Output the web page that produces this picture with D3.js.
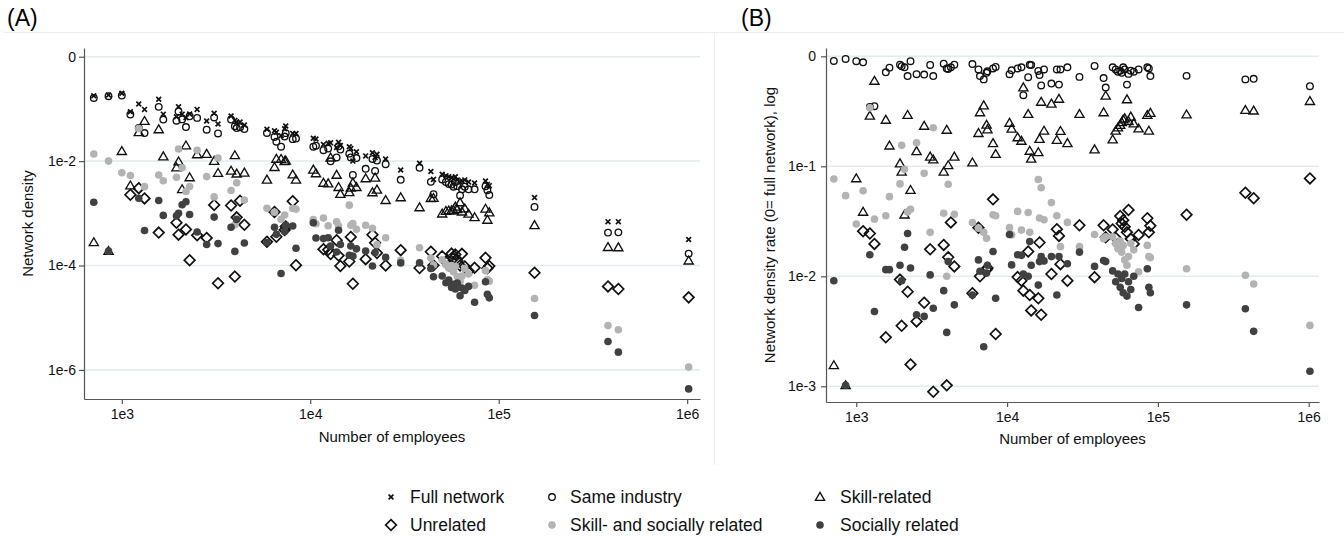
<!DOCTYPE html>
<html>
<head>
<meta charset="utf-8">
<script src="https://cdn.jsdelivr.net/npm/d3@7"></script>
<style>
  body { margin: 0; background: #fff; }
  svg { display: block; font-family: "Liberation Sans", Arial, sans-serif; }
</style>
</head>
<body>
<svg id="chart" width="1344" height="537"></svg>
<script>
// Firms: number of employees and the density of the full co-worker network
const employees = [710, 850, 1000, 1110, 1230, 1320, 1570, 1660, 1950, 2000,
  2090, 2190, 2290, 2510, 2820, 3090, 3240, 3800, 3980, 4070,
  4240, 4470, 5890, 6460, 6610, 7000, 7310, 7410, 8070, 8400,
  10380, 10720, 11750, 12450, 12820, 13800, 14130, 14450, 16110, 16410,
  16830, 17580, 19680, 21380, 22080, 22590, 25120, 30200, 38020, 43650,
  45080, 50120, 52480, 54330, 56230, 57540, 58880, 60260, 62370, 63830,
  66070, 69180, 74470, 85110, 87100, 89130, 154900, 380200, 431500, 1018600];

const fullNetwork = [0.179, 0.185, 0.200, 0.0883, 0.124, 0.098, 0.153, 0.0794, 0.0708, 0.110,
  0.0794, 0.068, 0.080, 0.098, 0.0586, 0.0822, 0.0513, 0.0731, 0.0603, 0.0562,
  0.0562, 0.049, 0.0407, 0.0383, 0.0356, 0.0306, 0.0417, 0.047, 0.034, 0.0339,
  0.0275, 0.0265, 0.0209, 0.0219, 0.0224, 0.0182, 0.0229, 0.020, 0.0189, 0.0174,
  0.010, 0.0151, 0.0126, 0.0145, 0.0117, 0.0135, 0.011, 0.00676, 0.00912, 0.00631,
  0.00447, 0.00562, 0.00525, 0.00501, 0.00479, 0.00457, 0.00501, 0.00437, 0.00398, 0.00417,
  0.00437, 0.00398, 0.0038, 0.00417, 0.00355, 0.00339, 0.002, 0.000692, 0.000692, 0.000316];

// Sub-network density as a share of the full network density (null = no ties)
const rateSameIndustry = [0.908, 0.946, 0.902, 0.883, 0.347, 0.352, 0.716, 0.789, 0.839, 0.813,
  0.794, 0.661, 0.902, 0.687, 0.682, 0.834, 0.661, 0.857, 0.776, 0.767,
  0.794, 0.839, 0.851, 0.759, 0.661, 0.617, 0.708, 0.731, 0.776, 0.80,
  0.687, 0.746, 0.776, 0.794, 0.443, 0.646, 0.838, 0.832, 0.736, 0.676,
  0.543, 0.759, 0.565, 0.759, 0.553, 0.759, 0.794, 0.65, 0.817, 0.635,
  0.52, 0.794, 0.759, 0.724, 0.741, 0.708, 0.794, 0.759, 0.553, 0.692,
  0.741, 0.724, 0.759, 0.794, 0.776, 0.661, 0.664, 0.617, 0.624, 0.535];

const rateSkillRelated = [0.00155, 0.00102, 0.0776, 0.0385, 0.288, 0.597, 0.264, 0.154, 0.106, 0.0891,
  0.0363, 0.292, 0.0608, 0.137, 0.233, 0.122, 0.115, 0.0891, 0.214, 0.102,
  null, 0.122, 0.108, 0.20, 0.309, 0.357, 0.238, 0.216, 0.162, 0.129,
  0.248, 0.219, 0.183, 0.17, 0.52, 0.298, 0.138, 0.117, 0.134, 0.177,
  0.385, 0.21, 0.37, 0.173, 0.41, 0.209, 0.162, 0.298, 0.142, 0.309,
  0.437, 0.175, 0.21, 0.225, 0.237, 0.251, 0.266, 0.272, 0.405, 0.257,
  0.282, 0.245, 0.22, 0.292, 0.21, 0.305, 0.295, 0.324, 0.32, 0.391];

const rateUnrelated = [null, null, null, 0.0257, 0.0245, 0.0197, 0.00279, null, 0.00933, 0.00355,
  null, 0.00724, 0.00158, 0.00389, 0.00575, 0.0176, 0.000891, 0.0193, 0.00102, 0.0149,
  0.0309, 0.0123, 0.00703, 0.0277, 0.01, null, 0.0115, 0.0119, 0.0501, 0.00299,
  null, null, 0.00984, 0.00912, 0.00741, 0.0168, 0.00676, 0.0049, 0.00631, 0.0203,
  0.00447, null, 0.0105, 0.0268, 0.0233, 0.0129, 0.00912, 0.0291, 0.00982, 0.0291,
  0.0226, 0.0267, 0.0224, 0.0197, 0.0353, 0.0302, 0.0324, 0.0282, 0.0251, 0.0401,
  0.0219, 0.0197, 0.0238, 0.0337, 0.0251, 0.0288, 0.0363, 0.0575, 0.0513, 0.0776];

const rateSkillSocial = [0.0766, 0.0541, 0.0299, 0.06, 0.34, 0.0331, 0.0355, 0.053, 0.0692, 0.155,
  0.0938, 0.0385, 0.0407, 0.164, 0.0863, 0.0251, 0.224, 0.0374, 0.01, 0.0686,
  null, 0.0366, 0.0308, 0.0274, null, 0.0251, 0.0222, null, 0.0363, 0.0355,
  0.0277, 0.0238, 0.0389, 0.0263, null, 0.038, 0.0251, null, 0.0759, 0.0339,
  0.0638, 0.0327, 0.0468, 0.0355, null, 0.0186, 0.0309, 0.0186, 0.024, 0.022,
  0.0229, 0.0229, 0.02, 0.0178, 0.0209, 0.0166, 0.0191, 0.0141, 0.0126, 0.0151,
  0.02, 0.0174, 0.011, 0.0191, 0.0151, 0.0148, 0.0117, 0.0102, 0.00851, 0.00358];

const rateSocial = [0.00912, 0.00102, null, null, 0.0157, 0.00479, 0.0115, 0.0115, 0.0126, 0.00912,
  0.0184, 0.0245, 0.0119, 0.00447, 0.00432, 0.0103, 0.00513, 0.00741, 0.00309, 0.0136,
  null, 0.0055, 0.00676, 0.0141, 0.0111, 0.00229, 0.0107, 0.0126, 0.0168, 0.00631,
  0.024, 0.0127, 0.0157, 0.0155, 0.0105, 0.01, 0.0207, 0.0126, 0.00832, 0.0136,
  0.0151, 0.0138, 0.0151, 0.00676, 0.0151, null, 0.013, 0.0166, 0.0123, 0.0139,
  0.0136, 0.0112, 0.00891, 0.0105, 0.00794, 0.00955, 0.00708, 0.0105, 0.00661, 0.00891,
  0.00759, 0.01, 0.0052, 0.0117, 0.00794, 0.00708, 0.0055, 0.00507, 0.00316, 0.00137];

const seriesNames = ["Full network", "Same industry", "Skill-related",
  "Unrelated", "Skill- and socially related", "Socially related"];
const seriesMarkers = ["cross", "circle", "triangle", "diamond", "light", "dark"];
const rateSeries = [null, rateSameIndustry, rateSkillRelated, rateUnrelated, rateSkillSocial, rateSocial];

const xTicks = [1e3, 1e4, 1e5, 1e6];
const yTicksA = [1, 1e-2, 1e-4, 1e-6];
const yTicksB = [1, 1e-1, 1e-2, 1e-3];

const svg = d3.select("#chart");

function marker(g, kind) {
  const ink = "#111";
  if (kind === "cross") {
    g.append("path").attr("d", "M-2.4,-2.4L2.4,2.4M-2.4,2.4L2.4,-2.4")
      .attr("stroke", ink).attr("stroke-width", 1.7).attr("fill", "none");
  } else if (kind === "circle") {
    g.append("circle").attr("r", 3.3).attr("fill", "none")
      .attr("stroke", ink).attr("stroke-width", 1.35);
  } else if (kind === "triangle") {
    g.append("path").attr("d", "M0,-4.6L4.6,3.3L-4.6,3.3Z").attr("fill", "none")
      .attr("stroke", ink).attr("stroke-width", 1.35);
  } else if (kind === "diamond") {
    g.append("path").attr("d", "M0,-5.3L5.3,0L0,5.3L-5.3,0Z").attr("fill", "none")
      .attr("stroke", ink).attr("stroke-width", 1.7);
  } else if (kind === "light") {
    g.append("circle").attr("r", 3.8).attr("fill", "#b3b3b3");
  } else if (kind === "dark") {
    g.append("circle").attr("r", 3.8).attr("fill", "#414141");
  }
}

const tickFmt = d => d === 1 ? "0" : "1e" + Math.round(Math.log10(d));

// faint outline of the two graph regions
svg.append("line").attr("x1", 4).attr("x2", 1344).attr("y1", 32.5).attr("y2", 32.5)
  .attr("stroke", "#e9eff1").attr("stroke-width", 1.2);
svg.append("line").attr("x1", 714.5).attr("x2", 714.5).attr("y1", 32).attr("y2", 465)
  .attr("stroke", "#e9eff1").attr("stroke-width", 1.2);

function panel(cfg) {
  const x = d3.scaleLog().domain([630, 1.17e6]).range([cfg.left, cfg.right]);
  const y = d3.scaleLog().domain(cfg.yDomain).range([cfg.bottom, cfg.top]);
  const g = svg.append("g");

  // horizontal grid
  g.append("g").selectAll("line").data(cfg.yTicks).join("line")
    .attr("x1", cfg.left).attr("x2", cfg.right)
    .attr("y1", d => y(d)).attr("y2", d => y(d))
    .attr("stroke", "#e2ebee").attr("stroke-width", 1.5);

  const yAxis = g.append("g").attr("transform", `translate(${cfg.left},0)`)
    .call(d3.axisLeft(y).tickValues(cfg.yTicks).tickFormat(tickFmt)
      .tickSize(5).tickSizeOuter(0).tickPadding(cfg.yPad));
  const xAxis = g.append("g").attr("transform", `translate(0,${cfg.bottom})`)
    .call(d3.axisBottom(x).tickValues(xTicks).tickFormat(tickFmt)
      .tickSize(5).tickSizeOuter(0).tickPadding(5));
  [yAxis, xAxis].forEach(a => {
    a.select(".domain").attr("stroke", "#555").attr("stroke-width", 1.2);
    a.selectAll(".tick line").attr("stroke", "#555").attr("stroke-width", 1.2);
    a.selectAll(".tick text").attr("font-size", 14).attr("fill", "#111")
      .attr("font-family", "Liberation Sans, Arial, sans-serif");
  });

  // points, series drawn in legend order
  cfg.series.forEach(s => {
    const pts = employees.map((e, i) => ({ e, v: s.values[i] }))
      .filter(p => p.v != null);
    g.append("g").selectAll("g").data(pts).join("g")
      .attr("transform", p => `translate(${x(p.e)},${y(p.v)})`)
      .each(function () { marker(d3.select(this), s.kind); });
  });

  // titles
  g.append("text").attr("transform", `translate(${cfg.yTitleX},${(cfg.top + cfg.bottom) / 2}) rotate(-90)`)
    .attr("text-anchor", "middle").attr("font-size", 15).attr("fill", "#111").text(cfg.yTitle);
  g.append("text").attr("x", (cfg.left + cfg.right) / 2).attr("y", cfg.xTitleY)
    .attr("text-anchor", "middle").attr("font-size", 15).attr("fill", "#111").text("Number of employees");
  g.append("text").attr("x", cfg.tagX).attr("y", 26).attr("font-size", 23).attr("fill", "#000").text(cfg.tag);
}

// Panel A: densities of each network
const seriesA = seriesMarkers.map((kind, k) => ({
  kind,
  values: k === 0 ? fullNetwork : fullNetwork.map((f, i) => rateSeries[k][i] == null ? null : f * rateSeries[k][i])
}));

// Panel B: densities relative to the full network
const seriesB = seriesMarkers.slice(1).map((kind, k) => ({ kind, values: rateSeries[k + 1] }));

panel({
  left: 84, right: 700, top: 48, bottom: 399, yDomain: [2.77e-7, 1.47], yTicks: yTicksA, yPad: 3,
  series: seriesA, yTitle: "Network density", yTitleX: 33, xTitleY: 442,
  tag: "(A)", tagX: 7
});
panel({
  left: 826, right: 1319, top: 48, bottom: 402, yDomain: [7.2e-4, 1.19], yTicks: yTicksB, yPad: 5,
  series: seriesB, yTitle: "Network density rate (0= full network), log", yTitleX: 775, xTitleY: 444,
  tag: "(B)", tagX: 741
});

// Legend
const legendItems = [
  { name: seriesNames[0], kind: "cross", x: 391, y: 497, tx: 410 },
  { name: seriesNames[1], kind: "circle", x: 552, y: 497, tx: 570 },
  { name: seriesNames[2], kind: "triangle", x: 820, y: 497, tx: 840 },
  { name: seriesNames[3], kind: "diamond", x: 391, y: 525, tx: 410 },
  { name: seriesNames[4], kind: "light", x: 552, y: 525, tx: 570 },
  { name: seriesNames[5], kind: "dark", x: 820, y: 525, tx: 840 }
];
const leg = svg.append("g");
legendItems.forEach(it => {
  marker(leg.append("g").attr("transform", `translate(${it.x},${it.y})`), it.kind);
  leg.append("text").attr("x", it.tx).attr("y", it.y + 6).attr("font-size", 17.5)
    .attr("fill", "#111").text(it.name);
});
</script>
</body>
</html>
